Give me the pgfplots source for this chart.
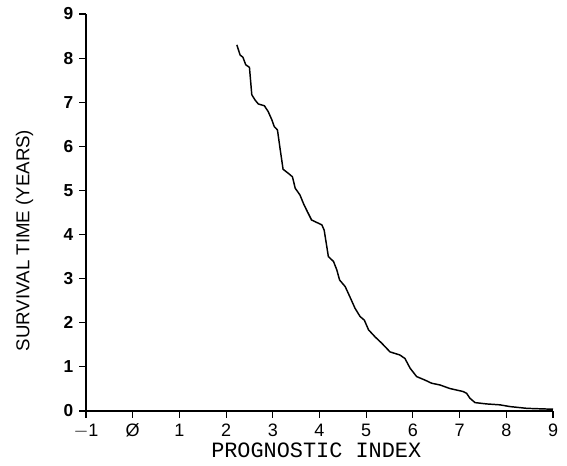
\documentclass[border=0pt]{standalone}
\usepackage{fontspec}
\setmainfont{Liberation Sans}
\setmonofont{Liberation Mono}
\usepackage{pgfplots}
\pgfplotsset{compat=1.18}
\begin{document}
\begin{tikzpicture}
\begin{axis}[
  scale only axis, width=350.25pt, height=297.75pt,
  xmin=-1, xmax=9, ymin=0, ymax=9,
  axis lines=left, axis line style={-, line width=0.8pt},
  xtick={-1,0,...,9}, ytick={0,1,...,9},
  xticklabels={$-$1,Ø,1,2,3,4,5,6,7,8,9},
  tick align=outside, major tick length=5pt,
  tick style={line width=0.8pt, black},
  /pgf/number format/assume math mode=true,
  yticklabel style={font=\fontsize{13}{15}\selectfont\bfseries, xshift=-1pt},
  xticklabel style={font=\fontsize{13.5}{15}\selectfont, yshift=-1pt},
  xlabel={\ttfamily PROGNOSTIC INDEX},
  ylabel={SURVIVAL TIME (YEARS)},
  xlabel style={font=\fontsize{16.4}{18}\selectfont, at={(axis description cs:0.493,-0.1)}, anchor=center},
  ylabel style={font=\fontsize{14}{16}\selectfont, at={(axis description cs:-0.1317,0.4295)}, anchor=center, rotate=0},
  clip=false,
]
\addplot[black, line width=1.1pt] coordinates {
(2.23,8.30) (2.30,8.07) (2.36,8.02) (2.42,7.85) (2.50,7.79) (2.55,7.17)
(2.62,7.05) (2.69,6.96) (2.82,6.92) (2.90,6.79) (2.98,6.60) (3.03,6.45)
(3.10,6.37) (3.15,5.99) (3.22,5.48) (3.33,5.39) (3.42,5.31) (3.48,5.05)
(3.58,4.90) (3.67,4.67) (3.74,4.52) (3.83,4.33) (3.97,4.26) (4.05,4.22)
(4.10,4.10) (4.19,3.50) (4.30,3.39) (4.37,3.20) (4.43,2.97) (4.55,2.82)
(4.65,2.59) (4.76,2.33) (4.87,2.14) (4.96,2.06) (5.05,1.84) (5.19,1.68)
(5.33,1.54) (5.51,1.34) (5.72,1.27) (5.83,1.19) (5.94,0.97) (6.08,0.78)
(6.26,0.70) (6.40,0.63) (6.58,0.59) (6.79,0.51) (7.08,0.44) (7.15,0.40)
(7.22,0.29) (7.33,0.19) (7.58,0.16) (7.86,0.14) (8.08,0.10) (8.44,0.06)
(9.00,0.04)
};
\coordinate (bl) at (rel axis cs:0,0);
\coordinate (tr) at (rel axis cs:1,1);
\end{axis}
\path ([shift={(-64.5pt,-41.25pt)}]bl) rectangle ([shift={(10.5pt,10.5pt)}]tr);
\end{tikzpicture}
\end{document}
